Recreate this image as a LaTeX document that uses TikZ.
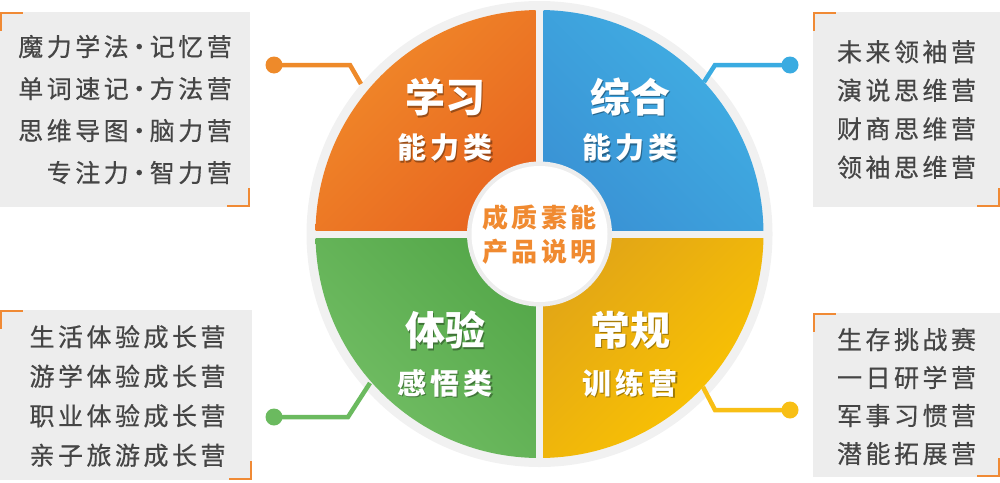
\documentclass[tikz,border=0pt]{standalone}
\usepackage{fontspec}
\newfontfamily\cjk{Noto Sans CJK SC}
\newfontfamily\cjkls{Noto Sans CJK SC}[LetterSpace=14]
\newfontfamily\cjkbox{Noto Sans CJK SC}[LetterSpace=14,FakeBold=0.5]
\newcommand{\middot}{\kern-2pt·\kern-2pt}
\definecolor{ringgray}{HTML}{F1F1F1}
\definecolor{boxgray}{HTML}{EDEDED}
\definecolor{boxtext}{HTML}{454545}
\definecolor{bracketor}{HTML}{F08A35}
\definecolor{orA}{HTML}{F18B2A}
\definecolor{orB}{HTML}{E86620}
\definecolor{blA}{HTML}{41B0E4}
\definecolor{blB}{HTML}{3A93D5}
\definecolor{grA}{HTML}{55A84A}
\definecolor{grB}{HTML}{74BF66}
\definecolor{yeA}{HTML}{E2A616}
\definecolor{yeB}{HTML}{FDC600}
\definecolor{conO}{HTML}{EE8A2A}
\definecolor{conB}{HTML}{3AABE1}
\definecolor{conG}{HTML}{6BBA5F}
\definecolor{conY}{HTML}{F8BF15}
\definecolor{centertext}{HTML}{F08A30}
\begin{document}
\begin{tikzpicture}[x=1pt,y=-1pt,
  box/.style={fill=boxgray, inner sep=0pt, text=boxtext},
  boxtxt/.style={text=boxtext, inner sep=0pt},
  bracket/.style={draw=bracketor, line width=2.5pt},
  conn/.style={line width=4.5pt},
  dotnode/.style={circle, inner sep=0pt, minimum size=17pt},
  title/.style={text=white, font=\cjk\bfseries\fontsize{40}{40}\selectfont, inner sep=0pt},
  subtitle/.style={text=white, font=\cjkls\bfseries\fontsize{29}{29}\selectfont, inner sep=0pt},
  titleshadow/.style={text=black, opacity=0.35},
]
\useasboundingbox (0,0) rectangle (1000,482);
\coordinate (C) at (539.5,234);
% outer ring
\fill[ringgray] (C) circle[radius=233];
% quadrants
\begin{scope}
  \clip (C) circle[radius=224];
  \shade[top color=orA, bottom color=orB, shading angle=45] (315,10) rectangle (535.5,230);
  \shade[top color=blA, bottom color=blB, shading angle=-45] (543.5,10) rectangle (764,230);
  \shade[top color=grA, bottom color=grB, shading angle=-45] (315,238) rectangle (535.5,458);
  \shade[top color=yeA, bottom color=yeB, shading angle=45] (543.5,238) rectangle (764,458);
\end{scope}
% center circle
\node[circle, fill=boxgray, minimum size=145pt, inner sep=0pt] (hub) at (C) {};
\node[circle, fill=white, minimum size=136pt, inner sep=0pt] (hubin) at (C) {};
\node[text=centertext, font=\cjkls\bfseries\fontsize{26}{34}\selectfont, align=center, inner sep=0pt] (hubtext) at (539.5,235) {成质素能\\产品说明};
% quadrant titles
\node[title, titleshadow] at (446.5,98.5) {学习};
\node[title] (tA) at (445,97) {学习};
\node[subtitle, titleshadow] at (446.5,149.5) {能力类};
\node[subtitle] (sA) at (445,148) {能力类};
\node[title, titleshadow] at (631.5,98.5) {综合};
\node[title] (tB) at (630,97) {综合};
\node[subtitle, titleshadow] at (631.5,149.5) {能力类};
\node[subtitle] (sB) at (630,148) {能力类};
\node[title, titleshadow] at (446.5,331.5) {体验};
\node[title] (tC) at (445,330) {体验};
\node[subtitle, titleshadow] at (446.5,384.5) {感悟类};
\node[subtitle] (sC) at (445,383) {感悟类};
\node[title, titleshadow] at (631.5,331.5) {常规};
\node[title] (tD) at (630,330) {常规};
\node[subtitle, titleshadow] at (631.5,384.5) {训练营};
\node[subtitle] (sD) at (630,383) {训练营};
% boxes
\node[box, minimum width=250pt, minimum height=195pt] (bTL) at (125,109.5) {};
\node[boxtxt, align=right, font=\cjkbox\fontsize{25}{42}\selectfont] (xTL) at (125,109.5) {魔力学法\middot 记忆营\\单词速记\middot 方法营\\思维导图\middot 脑力营\\专注力\middot 智力营};
\node[box, minimum width=187pt, minimum height=195pt] (bTR) at (906.5,109.5) {};
\node[boxtxt, align=left, font=\cjkbox\fontsize{25}{38.5}\selectfont] (xTR) at (906.5,109.5) {未来领袖营\\演说思维营\\财商思维营\\领袖思维营};
\node[box, minimum width=252pt, minimum height=170pt] (bBL) at (126,395) {};
\node[boxtxt, align=left, font=\cjkbox\fontsize{25}{39.5}\selectfont] (xBL) at (127.5,396) {生活体验成长营\\游学体验成长营\\职业体验成长营\\亲子旅游成长营};
\node[box, minimum width=187pt, minimum height=164pt] (bBR) at (906.5,395) {};
\node[boxtxt, align=left, font=\cjkbox\fontsize{25}{38}\selectfont] (xBR) at (906.5,396.5) {生存挑战赛\\一日研学营\\军事习惯营\\潜能拓展营};
% brackets
\foreach \b in {bTL,bTR,bBL,bBR}{
  \draw[bracket] ([xshift=1.25pt,yshift=-19pt]\b.north west) -- ([xshift=1.25pt,yshift=-1.25pt]\b.north west) -- ([xshift=23pt,yshift=-1.25pt]\b.north west);
  \draw[bracket] ([xshift=-1.25pt,yshift=19pt]\b.south east) -- ([xshift=-1.25pt,yshift=1.25pt]\b.south east) -- ([xshift=-23pt,yshift=1.25pt]\b.south east);
}
% connectors
\node[dotnode, fill=conO] (dO) at (274,65) {};
\coordinate (kO) at (350,65);
\coordinate (eO) at (361,84);
\draw[conn, draw=conO] (dO.center) -- (kO) -- (eO);
\node[dotnode, fill=conB] (dB) at (790,65) {};
\coordinate (kB) at (715,65);
\coordinate (eB) at (704,82);
\draw[conn, draw=conB] (dB.center) -- (kB) -- (eB);
\node[dotnode, fill=conG] (dG) at (274,417) {};
\coordinate (kG) at (348,417);
\coordinate (eG) at (370,383);
\draw[conn, draw=conG] (dG.center) -- (kG) -- (eG);
\node[dotnode, fill=conY] (dY) at (790,410) {};
\coordinate (kY) at (715,410);
\coordinate (eY) at (703,387);
\draw[conn, draw=conY] (dY.center) -- (kY) -- (eY);
\end{tikzpicture}
\end{document}
